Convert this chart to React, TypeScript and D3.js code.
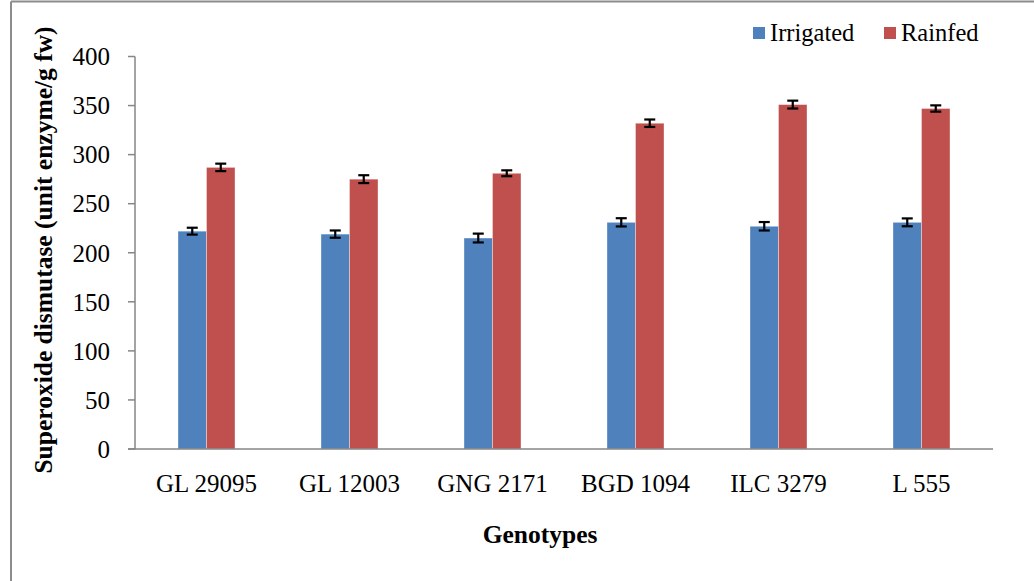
import React from "react";
import * as d3 from "d3";

const genotypes = ["GL 29095", "GL 12003", "GNG 2171", "BGD 1094", "ILC 3279", "L 555"];
const series = ["Irrigated", "Rainfed"];
const irrigated = [222, 219, 215, 231, 227, 231];
const rainfed = [287, 275, 281, 332, 351, 347];
const irrigatedErr = [3.5, 3.7, 4.5, 4.2, 4.3, 4];
const rainfedErr = [3.8, 4, 3, 3.8, 4, 3.2];
const yTicks = [0, 50, 100, 150, 200, 250, 300, 350, 400];
const colors = ["#4F81BD", "#C0504D"];

const W = 1034;
const H = 581;
const FONT = "'Liberation Serif', 'Times New Roman', serif";

export default function App() {
  const left = 135, right = 993, top = 56.5, bottom = 449;
  const x = d3.scaleBand<string>().domain(genotypes).range([left, right]).paddingInner(0).paddingOuter(0);
  const y = d3.scaleLinear().domain([0, 400]).range([bottom, top]);
  const barW = 28.5;
  const values = [irrigated, rainfed];
  const errs = [irrigatedErr, rainfedErr];
  const axisColor = "#868686";

  return (
    <svg width={W} height={H} style={{ position: "absolute", left: 0, top: 0, background: "#fff" }}>
      <rect x={0} y={0} width={W} height={H} fill="#fff" />
      {/* outer frame (partially visible) */}
      <line x1={11} y1={1.5} x2={W} y2={1.5} stroke="#8c8c8c" strokeWidth={2} />
      <line x1={11} y1={1.5} x2={11} y2={H} stroke="#8c8c8c" strokeWidth={2} />

      {/* bars */}
      {genotypes.map((g, i) => {
        const c = (x(g) as number) + x.bandwidth() / 2;
        return (
          <g key={g}>
            {values.map((vals, s) => {
              const bx = c - barW + s * barW;
              const v = vals[i];
              return (
                <rect key={s} x={bx} y={y(v)} width={barW} height={bottom - y(v)} fill={colors[s]}
                  stroke="#ffffff" strokeOpacity={0.45} strokeWidth={0.8} />
              );
            })}
          </g>
        );
      })}

      {/* axes */}
      <line x1={left} y1={top} x2={left} y2={bottom} stroke={axisColor} strokeWidth={1.5} />
      <line x1={left - 7} y1={bottom} x2={right} y2={bottom} stroke={axisColor} strokeWidth={1.5} />
      {yTicks.map((t) => (
        <g key={t}>
          <line x1={left - 7} y1={y(t)} x2={left} y2={y(t)} stroke={axisColor} strokeWidth={1.5} />
          <text x={110} y={y(t)} dy="0.35em" textAnchor="end" fontFamily={FONT} fontSize={25} fill="#000">
            {t}
          </text>
        </g>
      ))}

      {/* error bars */}
      {genotypes.map((g, i) => {
        const c = (x(g) as number) + x.bandwidth() / 2;
        return (
          <g key={g + "e"}>
            {values.map((vals, s) => {
              const cx = c - barW / 2 + s * barW;
              const v = vals[i];
              const e = errs[s][i];
              return (
                <g key={s} stroke="#000" strokeWidth={2.2}>
                  <line x1={cx} y1={y(v + e)} x2={cx} y2={y(v - e)} />
                  <line x1={cx - 5.5} y1={y(v + e)} x2={cx + 5.5} y2={y(v + e)} />
                  <line x1={cx - 5.5} y1={y(v - e)} x2={cx + 5.5} y2={y(v - e)} />
                </g>
              );
            })}
          </g>
        );
      })}

      {/* x labels */}
      {genotypes.map((g) => (
        <text key={g + "l"} x={(x(g) as number) + x.bandwidth() / 2} y={492} textAnchor="middle"
          fontFamily={FONT} fontSize={25} fill="#000">
          {g}
        </text>
      ))}

      {/* axis titles */}
      <text x={540} y={543} textAnchor="middle" fontFamily={FONT} fontSize={25.5} fontWeight="bold" fill="#000">
        Genotypes
      </text>
      <text transform={`translate(52, 250) rotate(-90)`} textAnchor="middle" fontFamily={FONT} fontSize={25.5}
        fontWeight="bold" fill="#000">
        Superoxide dismutase (unit enzyme/g fw)
      </text>

      {/* legend */}
      {series.map((s, k) => {
        const lx = [753, 884][k];
        return (
          <g key={s}>
            <rect x={lx} y={27} width={12} height={12} fill={colors[k]} />
            <text x={lx + 17} y={41} fontFamily={FONT} fontSize={24.5} fill="#000">
              {s}
            </text>
          </g>
        );
      })}
    </svg>
  );
}
